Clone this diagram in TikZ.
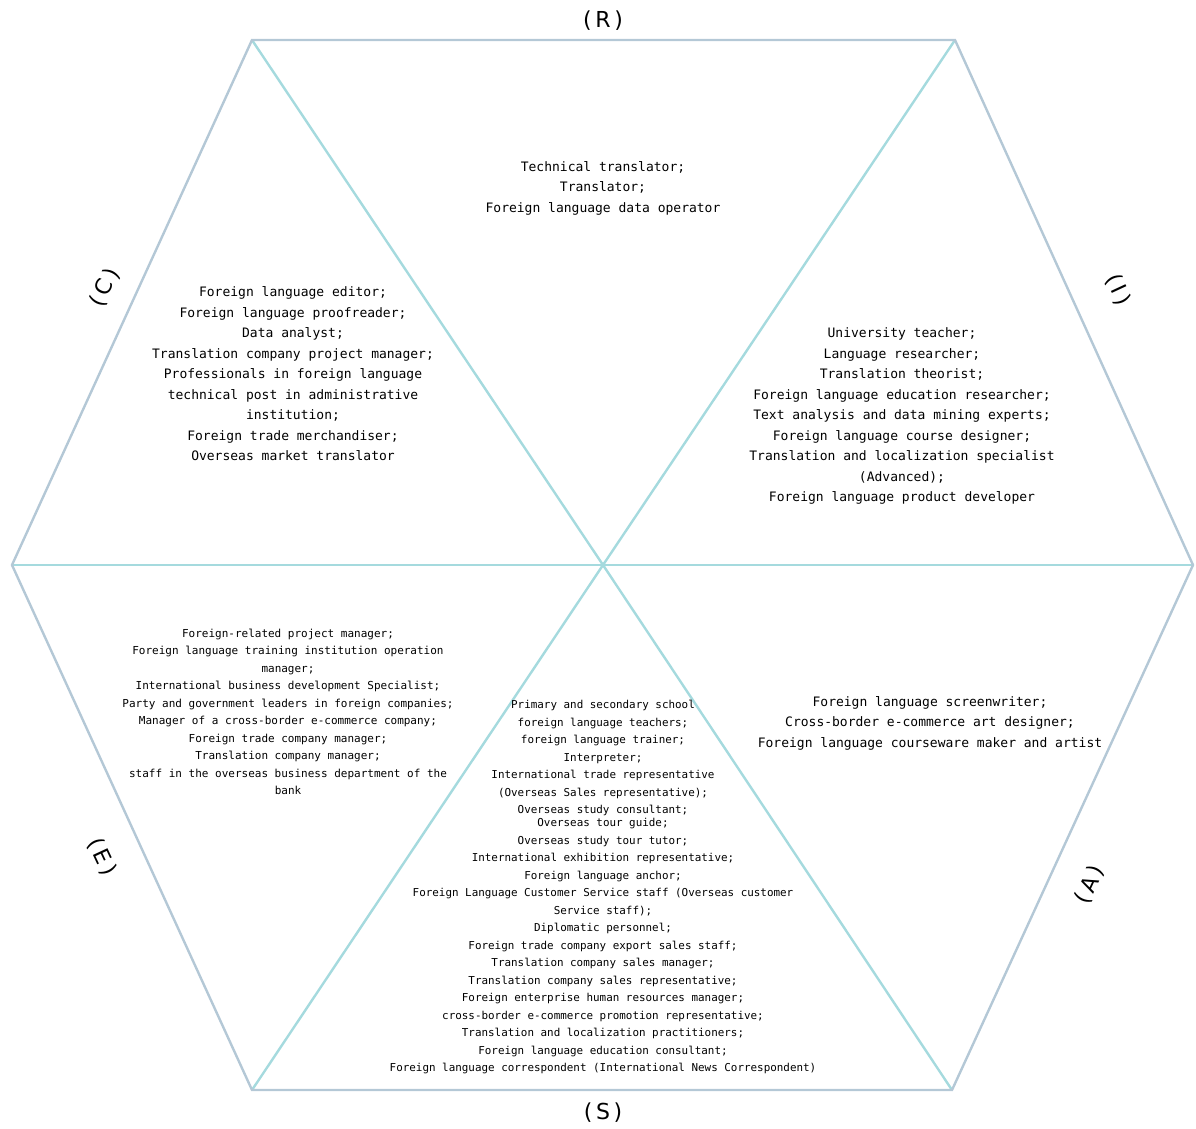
\documentclass[tikz,border=0pt]{standalone}
\usepackage{fontspec}
\setmonofont{DejaVu Sans Mono}
\newfontfamily\labfont{DejaVu Sans}
\definecolor{outerc}{RGB}{180,200,214}
\definecolor{innerc}{RGB}{165,218,222}
\tikzset{
  edge/.style={draw=outerc, line width=2.4pt},
  diag/.style={draw=innerc, line width=2.4pt},
  bigtxt/.style={align=center, text=black, inner sep=0pt, font=\ttfamily\fontsize{13}{20.5}\selectfont},
  smalltxt/.style={align=center, text=black, inner sep=0pt, font=\ttfamily\fontsize{11}{17.5}\selectfont},
  stxt/.style={align=center, text=black, inner sep=0pt, font=\ttfamily\fontsize{10.9}{17.5}\selectfont},
  lab/.style={text=black, inner sep=0pt, font=\labfont\fontsize{22}{24}\selectfont}
}
\begin{document}
\begin{tikzpicture}[x=1pt,y=-1pt]
\useasboundingbox (0,0) rectangle (1196,1129);
\coordinate (tl) at (252,40);
\coordinate (tr) at (955,40);
\coordinate (r) at (1193,565);
\coordinate (br) at (952,1090);
\coordinate (bl) at (252,1090);
\coordinate (l) at (12,565);
\coordinate (c) at (603,565);
% diagonals
\draw[diag] (tl) -- (c) -- (br);
\draw[diag] (tr) -- (c) -- (bl);
\draw[diag] (l) -- (c) -- (r);
% outer hexagon
\draw[edge, line join=miter] (tl) -- (tr) -- (r) -- (br) -- (bl) -- (l) -- cycle;
% labels
\node[lab] (labR) at (603,21) {(\,R\,)};
\node[lab] (labS) at (603,1113) {(\,S\,)};
\node[lab, rotate=65] (labC) at (105,288) {(\,C\,)};
\node[lab, rotate=-65] (labI) at (1118,290) {(\,I\,)};
\node[lab, rotate=-65] (labE) at (102,857) {(\,E\,)};
\node[lab, rotate=65] (labA) at (1090,885) {(\,A\,)};
% texts
\node[bigtxt] (tR) at (603,188) {Technical translator;\\Translator;\\Foreign language data operator};
\node[bigtxt] (tC) at (293,374) {Foreign language editor;\\Foreign language proofreader;\\Data analyst;\\Translation company project manager;\\Professionals in foreign language\\technical post in administrative\\institution;\\Foreign trade merchandiser;\\Overseas market translator};
\node[bigtxt] (tI) at (902,416) {University teacher;\\Language researcher;\\Translation theorist;\\Foreign language education researcher;\\Text analysis and data mining experts;\\Foreign language course designer;\\Translation and localization specialist\\(Advanced);\\Foreign language product developer};
\node[bigtxt] (tA) at (930,723) {Foreign language screenwriter;\\Cross-border e-commerce art designer;\\Foreign language courseware maker and artist};
\node[smalltxt] (tE) at (288,712) {Foreign-related project manager;\\Foreign language training institution operation\\manager;\\International business development Specialist;\\Party and government leaders in foreign companies;\\Manager of a cross-border e-commerce company;\\Foreign trade company manager;\\Translation company manager;\\staff in the overseas business department of the\\bank};
\node[stxt] (tS) at (603,887) {Primary and secondary school\\foreign language teachers;\\foreign language trainer;\\Interpreter;\\International trade representative\\(Overseas Sales representative);\\Overseas study consultant;\\[-4.5pt]Overseas tour guide;\\Overseas study tour tutor;\\International exhibition representative;\\Foreign language anchor;\\Foreign Language Customer Service staff (Overseas customer\\Service staff);\\Diplomatic personnel;\\Foreign trade company export sales staff;\\Translation company sales manager;\\Translation company sales representative;\\Foreign enterprise human resources manager;\\cross-border e-commerce promotion representative;\\Translation and localization practitioners;\\Foreign language education consultant;\\Foreign language correspondent (International News Correspondent)};
\end{tikzpicture}
\end{document}
